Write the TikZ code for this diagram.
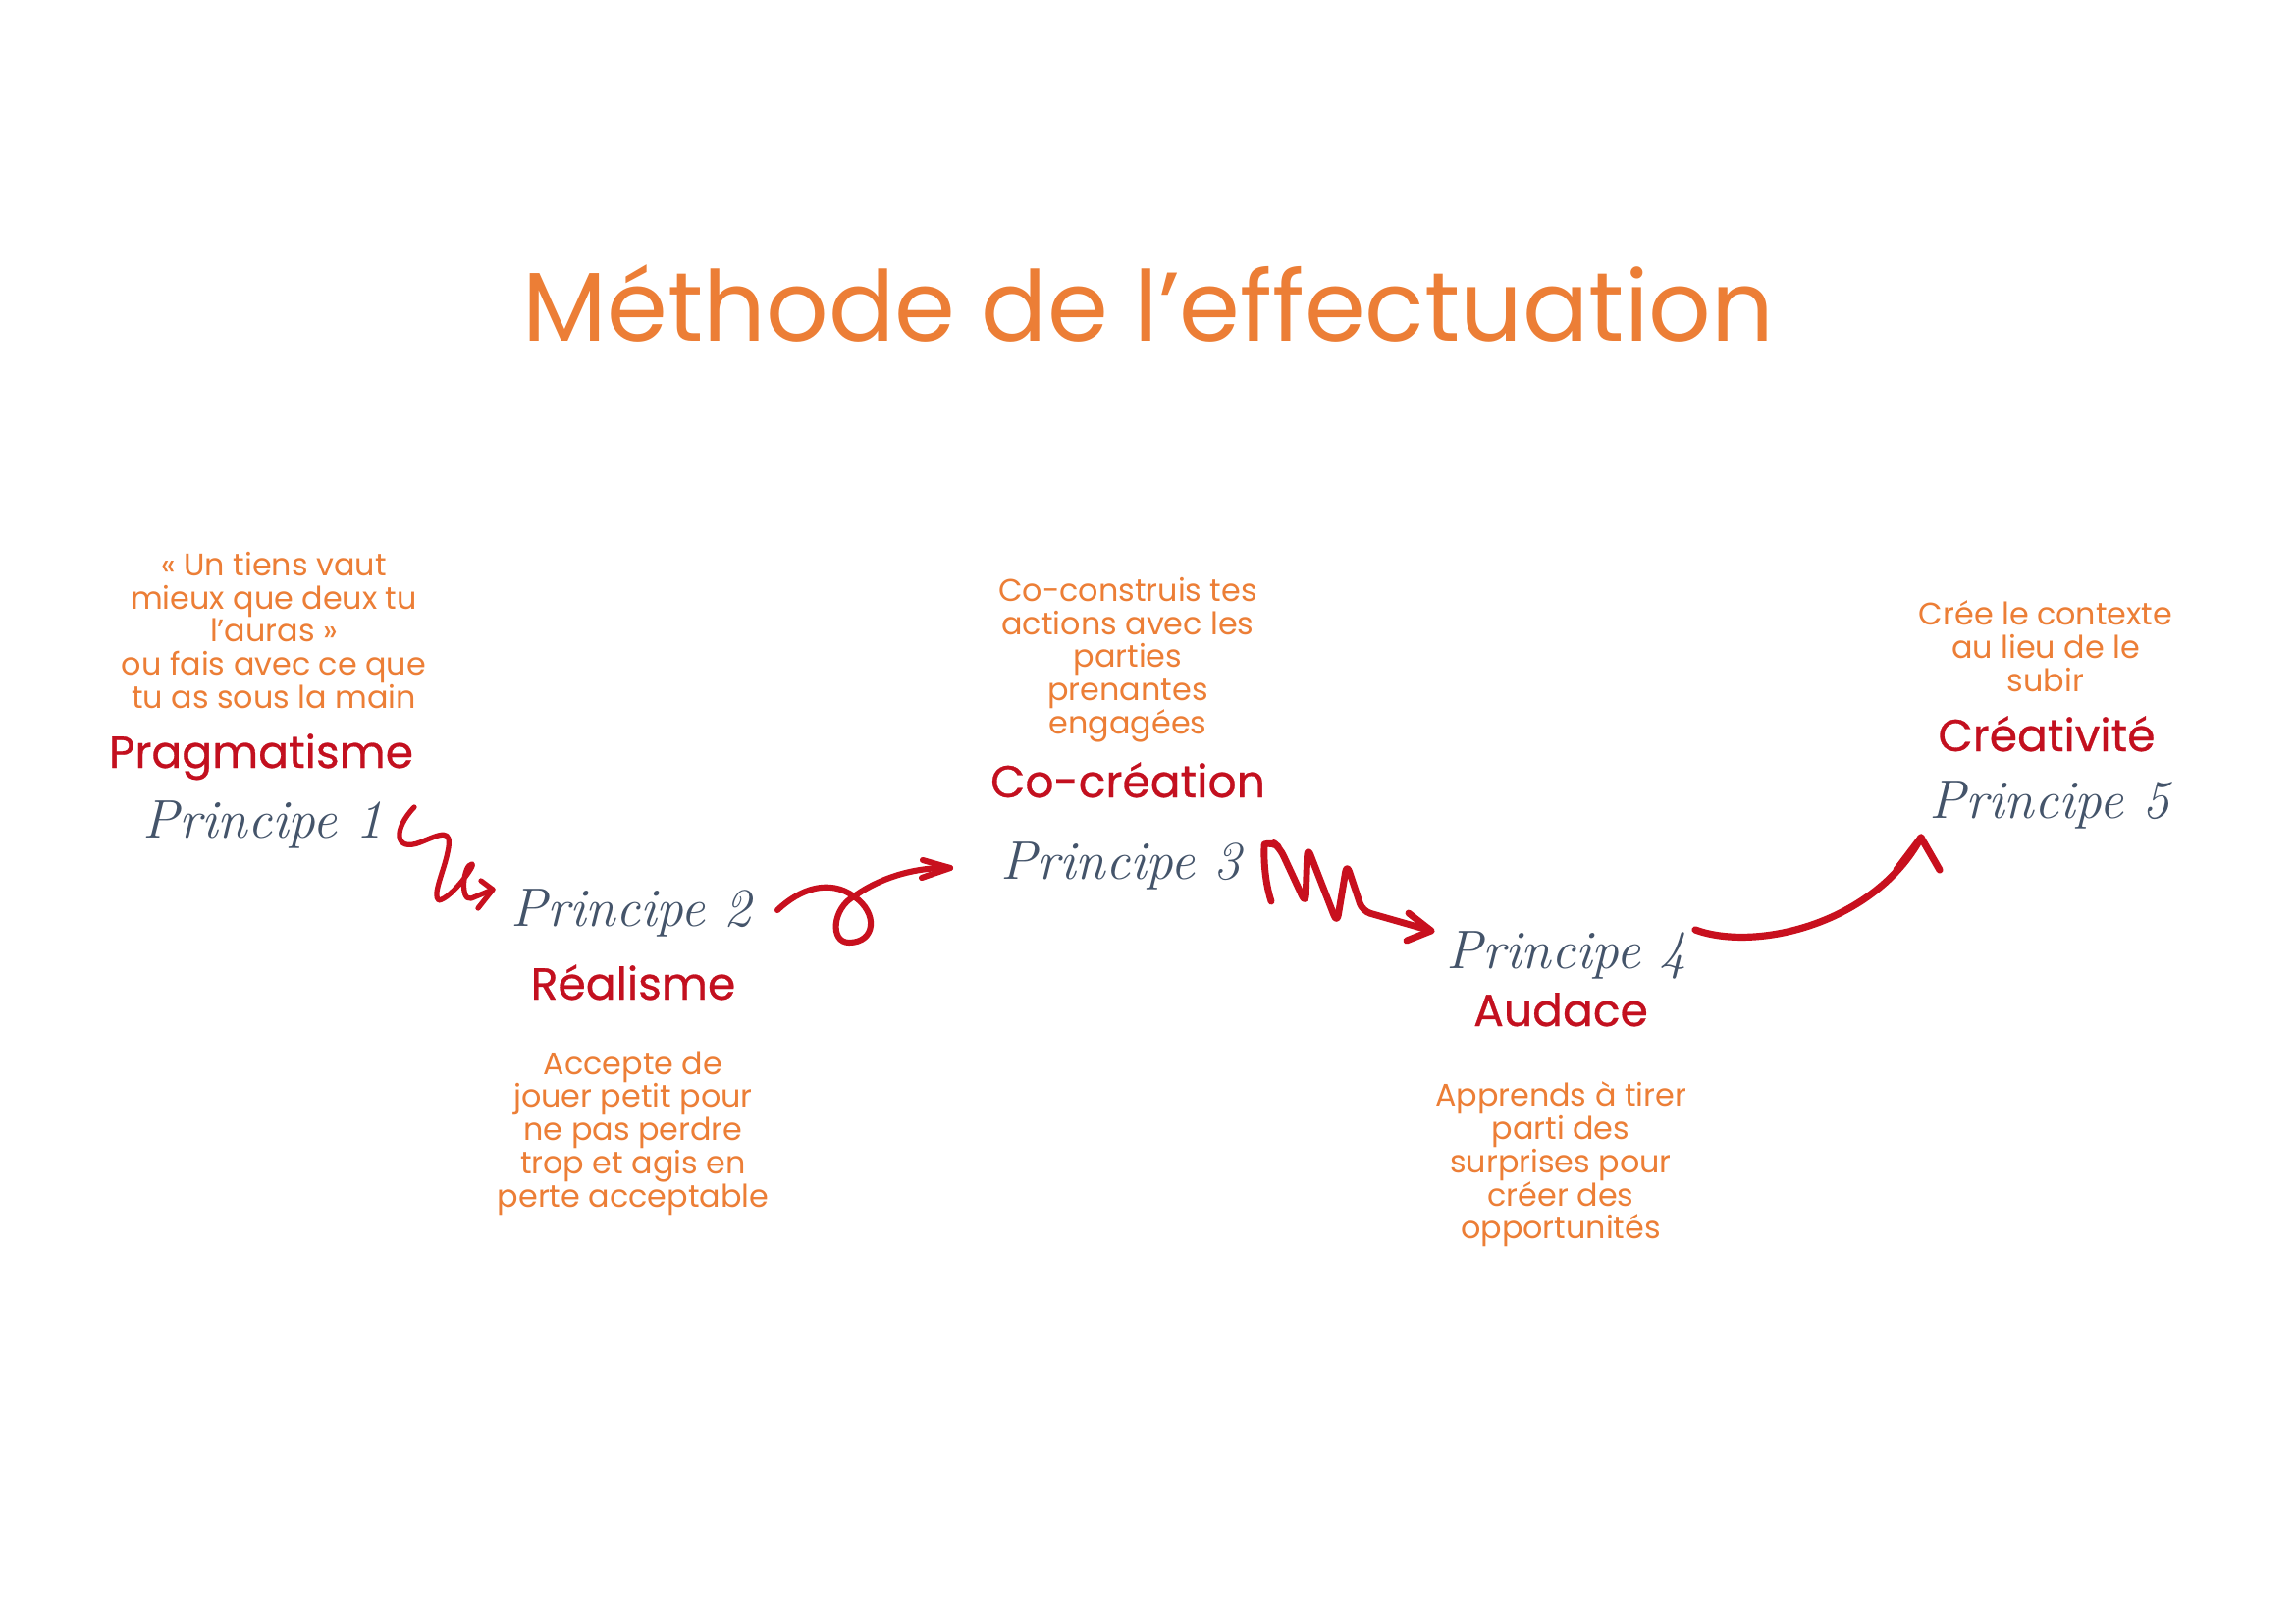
\documentclass[tikz,border=0pt]{standalone}
\usepackage{fontspec}
\newfontfamily\handfont{Poppins}
\newfontfamily\labelfont{Poppins}[FakeBold=0.6]
\newfontfamily\princfont{Latin Modern Roman}[Numbers=Lining]
\definecolor{orangeT}{HTML}{EC7E36}
\definecolor{redL}{HTML}{C3101F}
\definecolor{slate}{HTML}{44546A}
\definecolor{redA}{HTML}{C8101E}
\begin{document}
\begin{tikzpicture}[x=0.3614pt,y=-0.3614pt,
  titlestyle/.style={font=\handfont\fontsize{36}{42}\selectfont, text=orangeT, inner sep=0pt, anchor=base},
  desc/.style={font=\handfont\fontsize{11.5}{12.2}\selectfont, text=orangeT, inner sep=0pt, align=center},
  label/.style={font=\labelfont\fontsize{16.5}{19}\selectfont, text=redL, inner sep=0pt, anchor=base},
  princ/.style={font=\princfont\itshape\fontsize{20}{23}\selectfont, text=slate, inner sep=0pt, anchor=base},
  squiggle/.style={draw=redA, line width=2.4pt, line cap=round, line join=round}
]
\useasboundingbox[fill=white] (0,0) rectangle (2339,1654);

\node[titlestyle] (title) at (1170,347) {Méthode de l’effectuation};

% Principe 1
\node[desc] (d1) at (279,642) {« Un tiens vaut\\mieux que deux tu\\l’auras »\\ou fais avec ce que\\tu as sous la main};
\node[label] (l1) at (266,782) {Pragmatisme};
\node[princ] (p1) at (268,853) {Principe 1};

% Principe 2
\node[princ] (p2) at (643,943) {Principe 2};
\node[label] (l2) at (645,1018) {Réalisme};
\node[desc] (d2) at (645,1154) {Accepte de\\jouer petit pour\\ne pas perdre\\trop et agis en\\perte acceptable};

% Principe 3
\node[desc] (d3) at (1149,672) {Co-construis tes\\actions avec les\\parties\\prenantes\\engagées};
\node[label] (l3) at (1149,812) {Co-création};
\node[princ] (p3) at (1142,895) {Principe 3};

% Principe 4
\node[princ] (p4) at (1596,986) {Principe 4};
\node[label] (l4) at (1590,1045) {Audace};
\node[desc] (d4) at (1590,1186) {Apprends à tirer\\parti des\\surprises pour\\créer des\\opportunités};

% Principe 5
\node[desc] (d5) at (2084,658) {Crée le contexte\\au lieu de le\\subir};
\node[label] (l5) at (2085,765) {Créativité};
\node[princ] (p5) at (2088,833) {Principe 5};

% arrow 1 (P1 -> P2)
\coordinate (a1s) at (422,822);
\coordinate (a1t) at (502,906);
\draw[squiggle, line width=1.9pt] (a1s) .. controls (400,845) and (402,868) .. (428,858)
  .. controls (448,850) and (462,842) .. (456,868)
  .. controls (452,888) and (440,912) .. (447,917)
  .. controls (460,915) and (485,880) .. (481,880)
  .. controls (472,880) and (468,918) .. (480,915) -- (a1t);
\draw[squiggle, line width=1.9pt] (490,897) -- (a1t) -- (487,925);

% arrow 2 (P2 -> P3)
\coordinate (a2s) at (792,927);
\coordinate (a2t) at (968,884);
\draw[squiggle, line width=2.2pt] (a2s) .. controls (815,905) and (845,895) .. (870,913)
  .. controls (895,930) and (892,960) .. (865,960)
  .. controls (845,960) and (848,925) .. (870,913)
  .. controls (895,895) and (930,883) .. (a2t);
\draw[squiggle, line width=2.2pt] (940,876) -- (a2t) -- (939,894);

% arrow 3 (P3 -> P4)
\coordinate (a3s) at (1295,918);
\coordinate (a3t) at (1458,948);
\draw[squiggle, line width=2.5pt, rounded corners=3pt] (a3s) .. controls (1286,890) and (1288,860) .. (1296,857)
  -- (1304,864) -- (1330,920) -- (1332,863) -- (1362,940) -- (1372,880) -- (1388,928) -- (a3t);
\draw[squiggle, line width=2.5pt] (1435,930) -- (a3t) -- (1433,958);

% arrow 4 (P4 -> P5)
\coordinate (a4s) at (1727,947);
\coordinate (a4t) at (1957,853);
\draw[squiggle, line width=2.6pt] (a4s) .. controls (1790,970) and (1910,940) .. (a4t);
\draw[squiggle, line width=2.6pt] (1932,886) -- (a4t) -- (1976,886);
\end{tikzpicture}
\end{document}
